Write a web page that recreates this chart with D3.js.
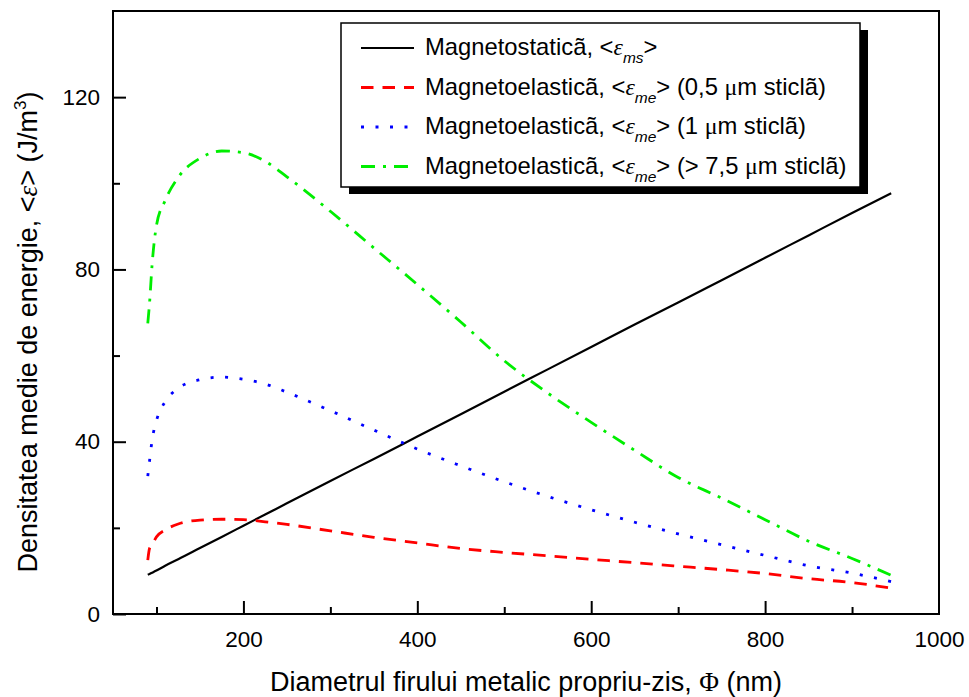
<!DOCTYPE html>
<html>
<head>
<meta charset="utf-8">
<script src="https://cdn.jsdelivr.net/npm/d3@7"></script>
<style>
  body { margin: 0; background: #fff; }
  svg { display: block; }
  text { font-family: "Liberation Sans", Arial, sans-serif; fill: #000; }
  .sym { font-family: "Liberation Serif", "DejaVu Serif", serif; }
</style>
</head>
<body>
<svg id="chart" width="969" height="697"></svg>
<script>
// Wire diameter Φ (nm) at which every series is sampled
const diameters = [90, 92, 95, 100, 110, 125, 150, 175, 200, 225, 250, 300, 350,
                   400, 450, 500, 550, 600, 650, 700, 750, 800, 850, 900, 945];

// Mean energy densities <ε> (J/m³)
const magnetostatic = [9.1, 9.3, 9.6, 10.1, 11.2, 12.7, 15.3, 17.9, 20.5, 23.1, 25.7, 30.9, 36.0,
                       41.2, 46.4, 51.6, 56.8, 62.0, 67.2, 72.3, 77.5, 82.7, 87.9, 93.1, 97.7];
const elasticGlass05 = [12.5, 15.2, 16.1, 17.9, 19.5, 20.9, 21.8, 22.0, 21.9, 21.4, 20.8, 19.3, 17.8,
                        16.5, 15.2, 14.3, 13.5, 12.7, 11.9, 11.1, 10.3, 9.4, 8.2, 7.3, 6.0];
const elasticGlass1 = [32.0, 35.5, 40.4, 44.9, 49.3, 52.4, 54.4, 55.0, 54.5, 53.4, 51.5, 47.2, 42.7,
                       38.3, 34.4, 30.7, 27.3, 24.2, 21.3, 18.6, 16.1, 13.6, 11.2, 9.5, 7.5];
const elasticGlass75 = [67.5, 72.1, 81.2, 90.2, 96.0, 101.4, 105.8, 107.5, 107.1, 105.1, 101.5, 93.5, 85.0,
                        76.5, 67.8, 58.8, 51.3, 44.5, 38.0, 31.7, 26.9, 21.9, 16.9, 12.9, 9.0];

const xMajorTicks = [200, 400, 600, 800, 1000];
const xMinorTicks = [100, 300, 500, 700, 900];
const yMajorTicks = [0, 40, 80, 120];
const yMinorTicks = [20, 60, 100];

const seriesLabels = ["Magnetostaticã", "Magnetoelasticã", "Magnetoelasticã", "Magnetoelasticã"];
const seriesSubscripts = ["ms", "me", "me", "me"];
const seriesNotes = ["", "(0,5 μm sticlã)", "(1 μm sticlã)", "(> 7,5 μm sticlã)"];
const seriesColors = ["#000000", "#ff0000", "#0000ff", "#00ee00"];
const seriesDashes = [null, "12.5,9", "3,11.5", "14,8,3,8"];
const seriesWidths = [2.2, 2.8, 2.8, 2.8];

const svg = d3.select("#chart");
const plot = { left: 113, right: 939, top: 11, bottom: 614 };

const x = d3.scaleLinear().domain([50, 1000]).range([plot.left, plot.right]);
const y = d3.scaleLinear().domain([0, 140]).range([plot.bottom, plot.top]);

// Axes with inward ticks
const gx = svg.append("g").attr("transform", `translate(0,${plot.bottom})`);
gx.call(d3.axisBottom(x).tickValues(xMajorTicks).tickSize(-13).tickPadding(17).tickFormat(d3.format("d")));
const gxMinor = svg.append("g").attr("transform", `translate(0,${plot.bottom})`);
gxMinor.call(d3.axisBottom(x).tickValues(xMinorTicks).tickSize(-7).tickFormat(""));

const gy = svg.append("g").attr("transform", `translate(${plot.left},0)`);
gy.call(d3.axisLeft(y).tickValues(yMajorTicks).tickSize(-13).tickPadding(13).tickFormat(d3.format("d")));
const gyMinor = svg.append("g").attr("transform", `translate(${plot.left},0)`);
gyMinor.call(d3.axisLeft(y).tickValues(yMinorTicks).tickSize(-7).tickFormat(""));

[gx, gxMinor, gy, gyMinor].forEach(g => {
  g.select(".domain").remove();
  g.selectAll(".tick line").attr("stroke", "#000").attr("stroke-width", 2);
  g.selectAll(".tick text")
    .attr("font-size", 22.5)
    .attr("font-family", "'Liberation Sans', Arial, sans-serif")
    .attr("fill", "#000");
});
gx.selectAll(".tick").filter(d => d === 1000).select("line").remove();

// Curves
const series = [magnetostatic, elasticGlass05, elasticGlass1, elasticGlass75];
const line = d3.line()
  .x((d, i) => x(diameters[i]))
  .y(d => y(d))
  .curve(d3.curveMonotoneX);

const curves = svg.append("g");
series.forEach((vals, k) => {
  curves.append("path")
    .datum(vals)
    .attr("d", line)
    .attr("fill", "none")
    .attr("stroke", seriesColors[k])
    .attr("stroke-width", seriesWidths[k])
    .attr("stroke-dasharray", seriesDashes[k]);
});

// Plot frame
svg.append("rect")
  .attr("x", plot.left).attr("y", plot.top)
  .attr("width", plot.right - plot.left).attr("height", plot.bottom - plot.top)
  .attr("fill", "none").attr("stroke", "#000").attr("stroke-width", 2);

// Legend with drop shadow
const lg = { x: 341, y: 23, w: 519, h: 164 };
svg.append("rect")
  .attr("x", lg.x + 8).attr("y", lg.y + 7).attr("width", lg.w).attr("height", lg.h)
  .attr("fill", "#000");
svg.append("rect")
  .attr("x", lg.x).attr("y", lg.y).attr("width", lg.w).attr("height", lg.h)
  .attr("fill", "#fff").attr("stroke", "#000").attr("stroke-width", 1.5);

seriesLabels.forEach((lab, k) => {
  const cy = 48 + k * 39.5;
  svg.append("line")
    .attr("x1", 361).attr("x2", 414).attr("y1", cy).attr("y2", cy)
    .attr("stroke", seriesColors[k])
    .attr("stroke-width", seriesWidths[k])
    .attr("stroke-dasharray", seriesDashes[k]);
  const t = svg.append("text")
    .attr("x", 425).attr("y", cy + 7)
    .attr("font-size", 23.8);
  t.append("tspan").text(lab + ", <");
  t.append("tspan").attr("class", "sym").attr("font-style", "italic").text("ε");
  t.append("tspan").attr("font-style", "italic").attr("font-size", 15.5).attr("dy", 8).text(seriesSubscripts[k]);
  t.append("tspan").attr("dy", -8).text(">");
  if (seriesNotes[k]) {
    const parts = seriesNotes[k].split("μ");
    t.append("tspan").text(" " + parts[0]);
    if (parts.length > 1) {
      t.append("tspan").attr("class", "sym").text("μ");
      t.append("tspan").text(parts[1]);
    }
  }
});

// Axis titles
const xt = svg.append("text")
  .attr("x", (plot.left + plot.right) / 2).attr("y", 691)
  .attr("text-anchor", "middle").attr("font-size", 27);
xt.append("tspan").text("Diametrul firului metalic propriu-zis, ");
xt.append("tspan").attr("class", "sym").text("Φ");
xt.append("tspan").text(" (nm)");

const yt = svg.append("text")
  .attr("transform", `translate(37,332) rotate(-90)`)
  .attr("text-anchor", "middle").attr("font-size", 27);
yt.append("tspan").text("Densitatea medie de energie, <");
yt.append("tspan").attr("class", "sym").attr("font-style", "italic").text("ε");
yt.append("tspan").text("> (J/m");
yt.append("tspan").attr("font-size", 17).attr("dy", -11).text("3");
yt.append("tspan").attr("dy", 11).text(")");
</script>
</body>
</html>
